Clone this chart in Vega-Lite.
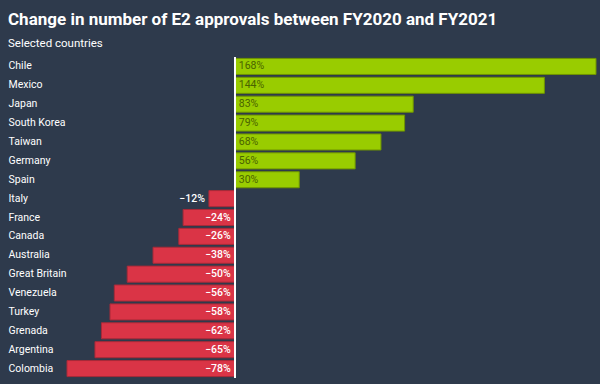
{
  "$schema": "https://vega.github.io/schema/vega-lite/v6.json",
  "width": 529,
  "height": 321,
  "autosize": "none",
  "padding": {"left": 67, "top": 57, "right": 4, "bottom": 6},
  "background": "#2e3a4c",
  "title": {
    "text": "Change in number of E2 approvals between FY2020 and FY2021",
    "subtitle": "Selected countries",
    "anchor": "start",
    "frame": "bounds",
    "font": "Roboto",
    "fontSize": 17,
    "fontWeight": "bold",
    "color": "#ffffff",
    "subtitleFont": "Roboto",
    "subtitleFontSize": 11.5,
    "subtitleColor": "#ffffff",
    "subtitlePadding": 9,
    "offset": 6
  },
  "config": {
    "view": {"stroke": null},
    "font": "Roboto"
  },
  "data": {
    "values": [
      {"country": "Chile", "value": 168, "label": "168%"},
      {"country": "Mexico", "value": 144, "label": "144%"},
      {"country": "Japan", "value": 83, "label": "83%"},
      {"country": "South Korea", "value": 79, "label": "79%"},
      {"country": "Taiwan", "value": 68, "label": "68%"},
      {"country": "Germany", "value": 56, "label": "56%"},
      {"country": "Spain", "value": 30, "label": "30%"},
      {"country": "Italy", "value": -12, "label": "−12%"},
      {"country": "France", "value": -24, "label": "−24%"},
      {"country": "Canada", "value": -26, "label": "−26%"},
      {"country": "Australia", "value": -38, "label": "−38%"},
      {"country": "Great Britain", "value": -50, "label": "−50%"},
      {"country": "Venezuela", "value": -56, "label": "−56%"},
      {"country": "Turkey", "value": -58, "label": "−58%"},
      {"country": "Grenada", "value": -62, "label": "−62%"},
      {"country": "Argentina", "value": -65, "label": "−65%"},
      {"country": "Colombia", "value": -78, "label": "−78%"}
    ]
  },
  "encoding": {
    "y": {
      "field": "country",
      "type": "nominal",
      "sort": null,
      "scale": {"paddingInner": 0.15, "paddingOuter": 0.075},
      "axis": {
        "title": null,
        "ticks": false,
        "domain": false,
        "labelAlign": "left",
        "labelPadding": 59,
        "labelColor": "#ffffff",
        "labelFont": "Roboto",
        "labelFontSize": 10.5
      }
    }
  },
  "layer": [
    {
      "mark": {"type": "bar", "strokeWidth": 1},
      "encoding": {
        "x": {
          "field": "value",
          "type": "quantitative",
          "scale": {"domain": [-78, 168], "nice": false, "zero": false},
          "axis": null
        },
        "color": {
          "condition": {"test": "datum.value >= 0", "value": "#99cc00"},
          "value": "#da3446"
        },
        "stroke": {
          "condition": {"test": "datum.value >= 0", "value": "#6f9400"},
          "value": "#a82a38"
        }
      }
    },
    {
      "mark": {"type": "rule", "color": "#ffffff", "strokeWidth": 1.2},
      "encoding": {"x": {"datum": 0, "type": "quantitative"}, "y": null}
    },
    {
      "transform": [{"filter": "datum.value >= 0"}],
      "mark": {"type": "text", "align": "left", "dx": 4, "baseline": "middle", "fontSize": 10.5, "color": "#4a6300"},
      "encoding": {
        "x": {"datum": 0, "type": "quantitative"},
        "text": {"field": "label", "type": "nominal"}
      }
    },
    {
      "transform": [{"filter": "datum.value < -15"}],
      "mark": {"type": "text", "align": "right", "dx": -4, "baseline": "middle", "fontSize": 10.5, "fontWeight": 500, "color": "#ffffff"},
      "encoding": {
        "x": {"datum": 0, "type": "quantitative"},
        "text": {"field": "label", "type": "nominal"}
      }
    },
    {
      "transform": [{"filter": "datum.value < 0 && datum.value >= -15"}],
      "mark": {"type": "text", "align": "right", "dx": -4, "baseline": "middle", "fontSize": 10.5, "fontWeight": 500, "color": "#ffffff"},
      "encoding": {
        "x": {"field": "value", "type": "quantitative"},
        "text": {"field": "label", "type": "nominal"}
      }
    }
  ]
}
